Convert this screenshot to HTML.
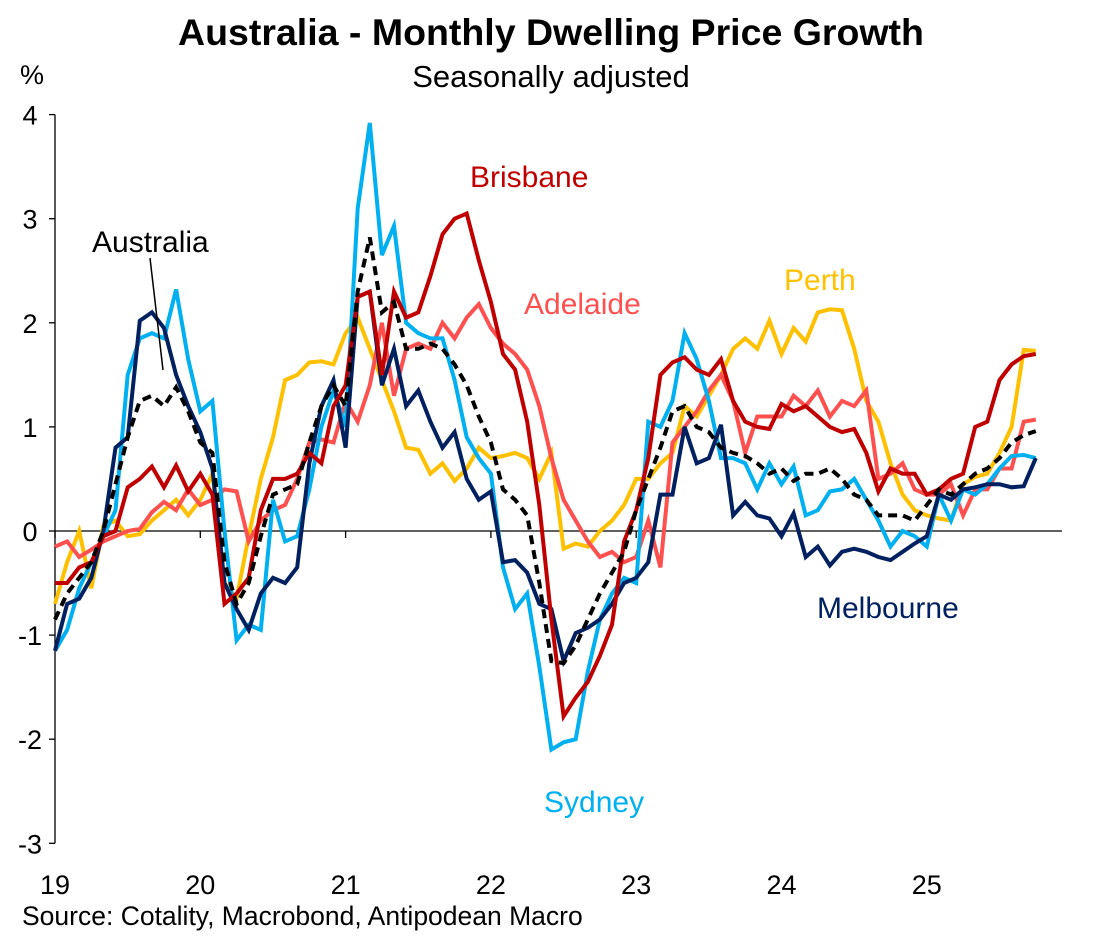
<!DOCTYPE html>
<html><head><meta charset="utf-8"><style>
body{margin:0;background:#fff;}
svg text{font-family:"Liberation Sans",Arial,sans-serif;}
</style></head><body>
<svg id="chart" width="1095" height="933" xmlns="http://www.w3.org/2000/svg">
<text x="551" y="45" text-anchor="middle" font-size="37.5" font-weight="bold">Australia - Monthly Dwelling Price Growth</text>
<text x="551" y="87" text-anchor="middle" font-size="31">Seasonally adjusted</text>
<text x="20" y="84" font-size="27">%</text>
<text x="22" y="925" font-size="26.5">Source: Cotality, Macrobond, Antipodean Macro</text>
<g id="axes"></g>
<g id="series"></g>
<text x="470" y="187" font-size="30" fill="#C00000">Brisbane</text>
<text x="524" y="314" font-size="30" fill="#FF5050">Adelaide</text>
<text x="784" y="290" font-size="30" fill="#FFC000">Perth</text>
<text x="817" y="618" font-size="30" fill="#002060">Melbourne</text>
<text x="544" y="812" font-size="30" fill="#00B0F0">Sydney</text>
<text x="92" y="252" font-size="30" fill="#000">Australia</text>
<line x1="150" y1="258" x2="163" y2="370" stroke="#000" stroke-width="1.5"/>
</svg>
<script>
const yTicks=[4,3,2,1,0,-1,-2,-3];
const xTickLabels=["19","20","21","22","23","24","25"];
const sydney=[-1.15,-0.95,-0.55,-0.3,-0.05,0.2,1.5,1.85,1.9,1.85,2.32,1.65,
1.15,1.25,0.0,-1.05,-0.9,-0.95,0.3,-0.1,-0.05,0.4,1.0,1.35,
1.0,3.1,3.92,2.65,2.93,2.0,1.9,1.85,1.85,1.45,0.9,0.7,
0.55,-0.35,-0.75,-0.6,-1.3,-2.1,-2.03,-2.0,-1.35,-0.85,-0.6,-0.45,
-0.5,1.05,1.0,1.25,1.9,1.65,1.25,0.7,0.7,0.65,0.4,0.65,
0.45,0.62,0.15,0.2,0.38,0.4,0.5,0.3,0.1,-0.15,0.0,-0.05,
-0.15,0.35,0.1,0.4,0.35,0.45,0.6,0.72,0.73,0.7];
const melbourne=[-1.15,-0.7,-0.65,-0.45,0.0,0.8,0.9,2.02,2.1,1.95,1.5,1.2,
0.95,0.6,-0.5,-0.75,-0.95,-0.6,-0.45,-0.5,-0.35,0.65,1.2,1.45,
0.8,2.25,2.3,1.4,1.75,1.2,1.35,1.05,0.8,0.95,0.5,0.3,
0.38,-0.3,-0.28,-0.4,-0.7,-0.75,-1.25,-0.98,-0.93,-0.85,-0.7,-0.5,
-0.45,-0.3,0.35,0.35,1.0,0.65,0.7,1.02,0.15,0.28,0.15,0.12,
-0.05,0.17,-0.25,-0.15,-0.33,-0.2,-0.17,-0.2,-0.25,-0.28,-0.2,-0.12,
-0.05,0.35,0.3,0.4,0.42,0.45,0.45,0.42,0.43,0.7];
const brisbane=[-0.5,-0.5,-0.35,-0.3,-0.05,0.0,0.42,0.5,0.62,0.42,0.63,0.38,
0.55,0.35,-0.7,-0.6,-0.45,0.2,0.5,0.5,0.55,0.75,0.65,1.2,
1.4,2.25,2.3,1.5,2.3,2.05,2.1,2.45,2.85,3.0,3.05,2.6,
2.2,1.7,1.55,1.05,0.25,-0.85,-1.78,-1.6,-1.45,-1.2,-0.9,-0.1,
0.2,0.7,1.5,1.62,1.67,1.55,1.5,1.65,1.25,1.05,1.0,0.98,
1.22,1.15,1.2,1.1,1.0,0.95,0.98,0.75,0.38,0.6,0.55,0.55,
0.35,0.4,0.5,0.55,1.0,1.05,1.45,1.6,1.68,1.7];
const adelaide=[-0.15,-0.1,-0.25,-0.18,-0.1,-0.05,0.0,0.02,0.18,0.28,0.2,0.4,
0.25,0.3,0.4,0.38,-0.1,0.1,0.2,0.25,0.5,0.85,0.88,0.85,
1.25,1.05,1.4,2.0,1.3,1.75,1.8,1.75,2.0,1.85,2.05,2.18,
1.95,1.8,1.7,1.55,1.2,0.7,0.3,0.1,-0.1,-0.25,-0.2,-0.3,
-0.25,0.1,-0.35,0.85,1.0,1.15,1.35,1.5,1.25,0.75,1.1,1.1,
1.1,1.3,1.2,1.35,1.1,1.25,1.2,1.35,0.5,0.55,0.65,0.4,
0.35,0.35,0.45,0.15,0.4,0.4,0.6,0.6,1.05,1.07];
const perth=[-0.7,-0.3,0.0,-0.55,0.05,0.1,-0.05,-0.03,0.1,0.2,0.3,0.15,
0.3,0.55,-0.5,-0.65,-0.05,0.5,0.9,1.45,1.5,1.62,1.63,1.6,
1.9,2.05,1.75,1.45,1.15,0.8,0.78,0.55,0.65,0.48,0.6,0.8,
0.7,0.72,0.75,0.7,0.5,0.75,-0.17,-0.12,-0.15,0.0,0.1,0.25,
0.5,0.5,0.65,0.75,1.2,1.1,1.3,1.5,1.75,1.85,1.75,2.02,
1.7,1.95,1.82,2.1,2.13,2.12,1.75,1.25,1.05,0.65,0.35,0.2,
0.15,0.12,0.1,0.45,0.52,0.55,0.75,1.0,1.74,1.73];
const australia=[-0.85,-0.6,-0.45,-0.3,0.0,0.45,0.9,1.25,1.3,1.2,1.38,1.15,
0.85,0.75,-0.3,-0.7,-0.5,-0.05,0.35,0.4,0.45,0.85,1.2,1.4,
1.2,2.3,2.82,2.1,2.2,1.75,1.75,1.8,1.75,1.6,1.4,1.1,
0.85,0.4,0.3,0.15,-0.5,-1.25,-1.27,-1.1,-0.85,-0.6,-0.4,-0.2,
0.2,0.5,0.8,1.15,1.2,1.0,0.95,0.8,0.75,0.72,0.65,0.55,
0.6,0.48,0.55,0.55,0.6,0.5,0.35,0.3,0.15,0.15,0.15,0.1,
0.25,0.4,0.35,0.45,0.55,0.6,0.7,0.85,0.92,0.96];

const NS="http://www.w3.org/2000/svg";
const X0=55, MW=145.3/12, Y0=531, YU=104.1;
function xs(i){return X0+i*MW;}
function ys(v){return Y0-v*YU;}
function mk(tag,attrs,parent){const e=document.createElementNS(NS,tag);for(const k in attrs)e.setAttribute(k,attrs[k]);parent.appendChild(e);return e;}
const axes=document.getElementById('axes');
const ya=mk('line',{x1:X0,y1:ys(4),x2:X0,y2:ys(-3),stroke:'#000','stroke-width':1.3},axes);


const xa=mk('line',{x1:X0,y1:Y0,x2:1062,y2:Y0,stroke:'#000','stroke-width':1.3},axes);


yTicks.forEach(v=>{
  mk('line',{x1:X0-6,y1:ys(v),x2:X0,y2:ys(v),stroke:'#000','stroke-width':1.3},axes);
  const t=mk('text',{x:30,y:ys(v)+10,'text-anchor':'middle','font-size':27},axes);
  t.textContent=v;
  
  
});
xTickLabels.forEach((l,k)=>{
  const x=xs(k*12);
  mk('line',{x1:x,y1:Y0,x2:x,y2:Y0+7,stroke:'#000','stroke-width':1.3},axes);
  const t=mk('text',{x:x,y:894,'text-anchor':'middle','font-size':27},axes);
  t.textContent=l;
  
  
});
const sg=document.getElementById('series');
function line(data,color,name,dash){
  const p=data.map((v,i)=>xs(i).toFixed(1)+','+ys(v).toFixed(1)).join(' ');
  const e=mk('polyline',{points:p,fill:'none',stroke:color,'stroke-width':4,'stroke-linejoin':'miter'},sg);
  if(dash)e.setAttribute('stroke-dasharray','9,6');
  
  
}
line(perth,'#FFC000','perth-line');
line(adelaide,'#FF5050','adelaide-line');
line(sydney,'#00B0F0','sydney-line');
line(melbourne,'#002060','melbourne-line');
line(brisbane,'#C00000','brisbane-line');
line(australia,'#000000','australia-line',true);
</script>
</body></html>
